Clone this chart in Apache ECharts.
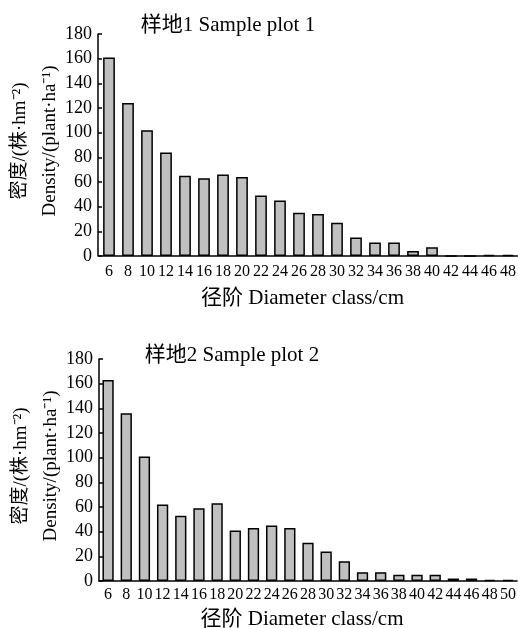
<!DOCTYPE html>
<html>
<head>
<meta charset="utf-8">
<script src="https://cdn.jsdelivr.net/npm/echarts@6/dist/echarts.min.js"></script>
<style>
  html, body { margin: 0; padding: 0; background: #fff; }
  #chart { width: 518px; height: 628px; }
</style>
</head>
<body>
<div id="chart"></div>
<script>
// 径阶 (cm)
var classes1 = ["6","8","10","12","14","16","18","20","22","24","26","28","30","32","34","36","38","40","42","44","46","48"];
var classes2 = ["6","8","10","12","14","16","18","20","22","24","26","28","30","32","34","36","38","40","42","44","46","48","50"];
// 密度 株/hm2
var density1 = [161, 124, 102, 84, 65, 63, 66, 64, 49, 45, 35, 34, 27, 15, 11, 11, 4, 7, 0, 0, 1, 1];
var density2 = [163, 136, 101, 62, 53, 59, 63, 41, 43, 45, 43, 31, 24, 16, 7, 7, 5, 5, 5, 2, 2, 1, 1];
var yTicks = [0, 20, 40, 60, 80, 100, 120, 140, 160, 180];

var titles = ["样地1 Sample plot 1", "样地2 Sample plot 2"];
var yName = "密度/(株·hm⁻²)\nDensity/(plant·ha⁻¹)";
var xName = "径阶 Diameter class/cm";

var FONT = "'Liberation Serif', 'Times New Roman', 'Noto Sans CJK SC', serif";

var myChart = echarts.init(document.getElementById("chart"));

function makeX(idx, cats, labelMargin, nameGap) {
  return {
    type: "category",
    gridIndex: idx,
    data: cats,
    name: xName,
    nameLocation: "middle",
    nameGap: nameGap,
    nameMoveOverlap: false,
    nameTextStyle: { color: "#000", fontFamily: FONT, fontSize: 21, padding: [0, 12, 0, 0] },
    axisLine: { lineStyle: { color: "#000", width: 1.5 } },
    axisTick: { show: false },
    axisLabel: { interval: 0, color: "#000", fontFamily: FONT, fontSize: 16, margin: labelMargin }
  };
}

function makeY(idx, offset) {
  return {
    type: "value",
    gridIndex: idx,
    min: 0,
    max: yTicks[yTicks.length - 1],
    interval: 20,
    offset: offset,
    name: yName,
    nameLocation: "middle",
    nameRotate: 90,
    nameGap: 33,
    nameMoveOverlap: false,
    nameTextStyle: { color: "#000", fontFamily: FONT, fontSize: 19, lineHeight: 30, padding: [0, 0, 0, 8] },
    axisLine: { show: true, lineStyle: { color: "#000", width: 1.5 } },
    axisTick: { show: true, inside: true, length: 4, lineStyle: { color: "#000", width: 1.5 } },
    splitLine: { show: false },
    axisLabel: { color: "#000", fontFamily: FONT, fontSize: 18, margin: 6 }
  };
}

function makeBar(idx, data) {
  return {
    type: "bar",
    xAxisIndex: idx,
    yAxisIndex: idx,
    data: data,
    barCategoryGap: "38%",
    itemStyle: { color: "#c0c0c0", borderColor: "#000", borderWidth: 1.5 },
    silent: true
  };
}

var option = {
  animation: false,
  backgroundColor: "#fff",
  title: [
    { text: titles[0], left: 223, top: 10, textAlign: "center",
      textStyle: { fontFamily: FONT, fontSize: 21, fontWeight: "normal", color: "#000" } },
    { text: titles[1], left: 227, top: 340, textAlign: "center",
      textStyle: { fontFamily: FONT, fontSize: 21, fontWeight: "normal", color: "#000" } }
  ],
  grid: [
    { left: 99.5, top: 34, width: 418, height: 222, containLabel: false, outerBoundsMode: "none" },
    { left: 99, top: 359, width: 418, height: 222, containLabel: false, outerBoundsMode: "none" }
  ],
  xAxis: [makeX(0, classes1, 8, 32), makeX(1, classes2, 6, 28)],
  yAxis: [makeY(0, 1.5), makeY(1, 0)],
  series: [makeBar(0, density1), makeBar(1, density2)]
};

myChart.setOption(option);
</script>
</body>
</html>
